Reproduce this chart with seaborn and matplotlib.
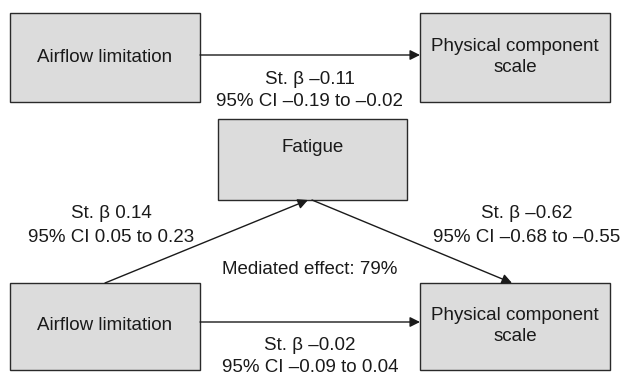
import matplotlib
matplotlib.use("Agg")
import matplotlib.pyplot as plt
from matplotlib.patches import Rectangle, FancyArrowPatch
import seaborn as sns

# path labels and estimates
nodes = ["Airflow limitation", "Physical component\nscale", "Fatigue",
         "Airflow limitation", "Physical component\nscale"]
betas = ["–0.11", "0.14", "–0.62", "–0.02"]
ci_low = ["–0.19", "0.05", "–0.68", "–0.09"]
ci_high = ["–0.02", "0.23", "–0.55", "0.04"]
mediated = 79

sns.set_theme(style="white")
plt.rcParams['font.family'] = ['Liberation Sans', 'DejaVu Sans']

fig = plt.figure(figsize=(6.2, 3.75), dpi=100)
ax = fig.add_axes([0, 0, 1, 1])
ax.set_xlim(0, 620)
ax.set_ylim(375, 0)
ax.axis('off')

fs = 13.5
box_fc = '#dcdcdc'
box_ec = '#2a2a2a'
txt_c = '#1a1a1a'

# box layout: x, y, w, h, text y
boxes = [(10, 13, 190, 89, 57), (420, 13, 190, 89, 57), (218, 119, 189, 81, 148),
         (10, 283, 190, 87, 325), (420, 283, 190, 87, 326)]
for (x, y, w, h, ty), label in zip(boxes, nodes):
    ax.add_patch(Rectangle((x, y), w, h, facecolor=box_fc, edgecolor=box_ec, lw=1.0))
    ax.text(x + w / 2, ty, label, ha='center', va='center', fontsize=fs,
            color=txt_c, linespacing=1.3)


def arrow(p0, p1):
    ax.add_patch(FancyArrowPatch(p0, p1, arrowstyle='-|>', mutation_scale=15,
                                 lw=1.0, color=txt_c, shrinkA=0, shrinkB=0))


arrow((200, 55), (420, 55))
arrow((105, 283), (308, 200))
arrow((312, 200), (512, 283))
arrow((200, 322), (420, 322))


def est(x, y, i, gap=22):
    ax.text(x, y, f"St. β {betas[i]}", ha='center', va='center', fontsize=fs, color=txt_c)
    ax.text(x, y + gap, f"95% CI {ci_low[i]} to {ci_high[i]}", ha='center',
            va='center', fontsize=fs, color=txt_c)


est(310, 79, 0)
est(111, 213, 1, 24)
est(527, 213, 2, 24)
est(310, 346, 3)

ax.text(310, 269, f"Mediated effect: {mediated}%", ha='center', va='center',
        fontsize=fs, color=txt_c)

fig.savefig('out.png', dpi=100, facecolor='white')
